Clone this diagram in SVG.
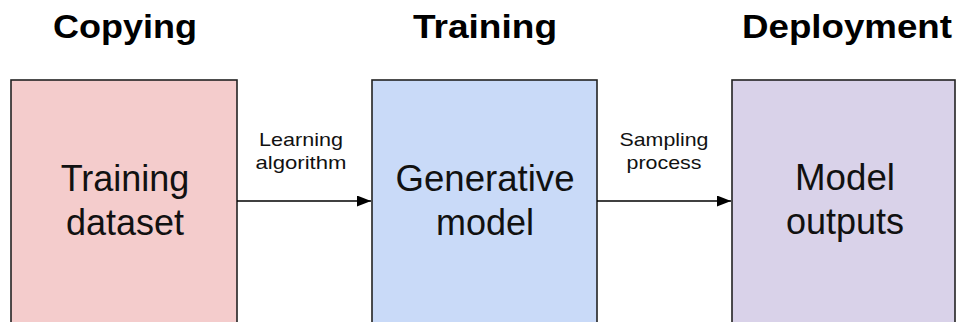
<svg xmlns="http://www.w3.org/2000/svg" width="956" height="322" viewBox="0 0 956 322">
<style>
.title{font-family:"Liberation Sans",Arial,sans-serif;font-weight:bold;font-size:33px;fill:#000;text-anchor:middle}
.box{stroke:#222;stroke-width:1.6}
.bt{font-family:"Liberation Sans",Arial,sans-serif;font-size:36px;fill:#111;text-anchor:middle}
.lbl{font-family:"Liberation Sans",Arial,sans-serif;font-size:19px;fill:#111;text-anchor:middle}
.conn{stroke:#000;stroke-width:1.6;fill:none}
</style>
<defs>
<marker id="ah" viewBox="0 0 14 11" refX="14" refY="5.5" markerWidth="14" markerHeight="11" markerUnits="userSpaceOnUse" orient="auto">
<path d="M0,0 L14,5.5 L0,11 z" fill="#000"/>
</marker>
</defs>
<rect width="956" height="322" fill="#fff"/>
<text class="title" x="125" y="38" textLength="144" lengthAdjust="spacingAndGlyphs">Copying</text>
<text class="title" x="485" y="38" textLength="144" lengthAdjust="spacingAndGlyphs">Training</text>
<text class="title" x="847" y="38" textLength="210" lengthAdjust="spacingAndGlyphs">Deployment</text>
<g id="training-dataset">
<rect class="box" x="11" y="80" width="226" height="260" fill="#f4cccc"/>
<text class="bt" x="125" y="191">Training</text>
<text class="bt" x="125" y="235">dataset</text>
</g>
<g id="generative-model">
<rect class="box" x="372" y="80" width="225" height="260" fill="#c9daf8"/>
<text class="bt" x="485" y="191" textLength="179" lengthAdjust="spacingAndGlyphs">Generative</text>
<text class="bt" x="485" y="235">model</text>
</g>
<g id="model-outputs">
<rect class="box" x="732" y="80" width="223" height="260" fill="#d9d2e9"/>
<text class="bt" x="845" y="190" textLength="100" lengthAdjust="spacingAndGlyphs">Model</text>
<text class="bt" x="845" y="234">outputs</text>
</g>
<g id="connectors">
<line class="conn" x1="237" y1="201" x2="371" y2="201" marker-end="url(#ah)"/>
<text class="lbl" x="301" y="146" textLength="84" lengthAdjust="spacingAndGlyphs">Learning</text>
<text class="lbl" x="301" y="169" textLength="91" lengthAdjust="spacingAndGlyphs">algorithm</text>
<line class="conn" x1="597" y1="201" x2="731" y2="201" marker-end="url(#ah)"/>
<text class="lbl" x="664" y="146" textLength="89" lengthAdjust="spacingAndGlyphs">Sampling</text>
<text class="lbl" x="664" y="169" textLength="75" lengthAdjust="spacingAndGlyphs">process</text>
</g>
</svg>
